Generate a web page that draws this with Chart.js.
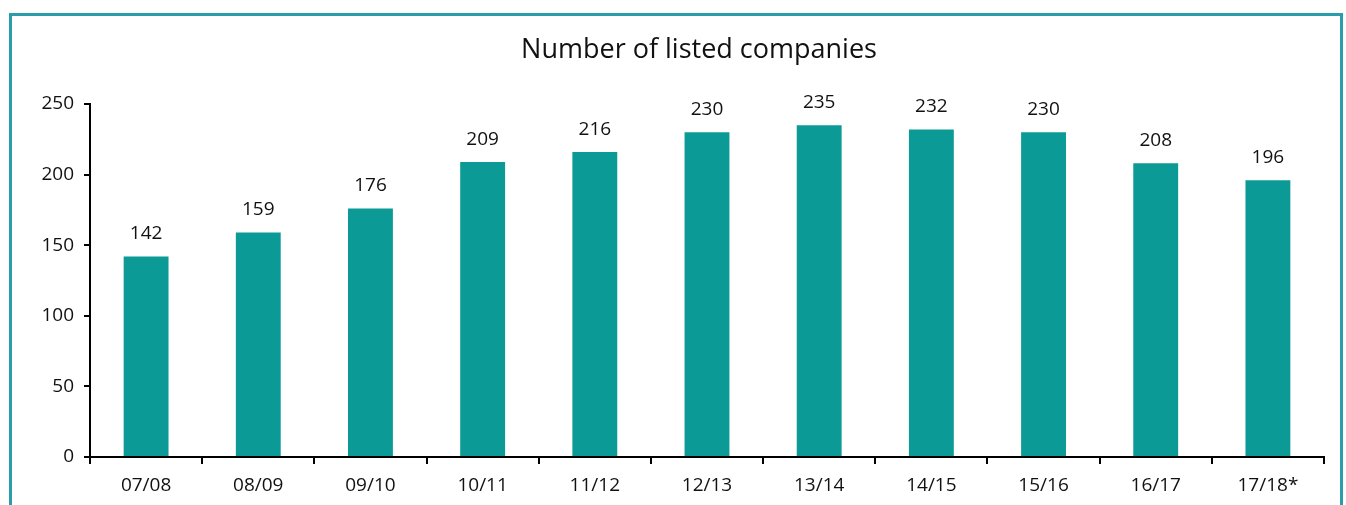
<!DOCTYPE html>
<html>
<head>
<meta charset="utf-8">
<script src="https://cdn.jsdelivr.net/npm/chart.js@4"></script>
<style>
  body { margin: 0; background: #fff; }
  #wrap { position: relative; width: 1346px; height: 505px; }
  #frame {
    position: absolute; left: 9px; top: 13px; width: 1328px; height: 500px;
    border: 3px solid #2a9dab; border-bottom: none; pointer-events: none;
  }
</style>
</head>
<body>
<div id="wrap">
  <canvas id="listedChart" width="1346" height="505"></canvas>
  <div id="frame"></div>
</div>
<script>
const chartTitle = 'Number of listed companies';
const seasons = ['07/08', '08/09', '09/10', '10/11', '11/12', '12/13', '13/14', '14/15', '15/16', '16/17', '17/18*'];
const listedCompanies = [142, 159, 176, 209, 216, 230, 235, 232, 230, 208, 196];
const yTicks = [0, 50, 100, 150, 200, 250];

const fontFamily = "'Open Sans', 'Noto Sans', sans-serif";

// title centred a bit left of the plot area, plus the value above each bar
const labelsPlugin = {
    id: 'labelsPlugin',
    afterDatasetsDraw(chart) {
        const c = chart.ctx;
        const area = chart.chartArea;
        c.save();
        c.fillStyle = '#111';
        c.textAlign = 'center';

        c.font = '27px ' + fontFamily;
        c.textBaseline = 'middle';
        c.fillText(chartTitle, (area.left + area.right) / 2 - 8, 50);

        c.font = '19px ' + fontFamily;
        c.textBaseline = 'alphabetic';
        chart.getDatasetMeta(0).data.forEach((bar, i) => {
            c.fillText(String(listedCompanies[i]), bar.x, bar.y - 17);
        });
        c.restore();
    }
};

const ctx = document.getElementById('listedChart').getContext('2d');

const listedChart = new Chart(ctx, {
    type: 'bar',
    data: {
        labels: seasons,
        datasets: [{
            label: chartTitle,
            data: listedCompanies,
            backgroundColor: '#0b9a96',
            borderWidth: 0,
            barPercentage: 0.4,
            categoryPercentage: 1
        }]
    },
    options: {
        responsive: false,
        animation: false,
        layout: {
            padding: { left: 30, right: 22, top: 104, bottom: 8 }
        },
        scales: {
            x: {
                grid: { drawOnChartArea: false, tickLength: 7, color: '#000', lineWidth: 2, offset: true },
                border: { color: '#000', width: 2 },
                ticks: { color: '#111', font: { family: fontFamily, size: 19 }, padding: 10, maxRotation: 0 },
                afterFit: s => { s.height = 40; }
            },
            y: {
                min: 0,
                max: 250,
                afterBuildTicks: s => { s.ticks = yTicks.map(v => ({ value: v })); },
                grid: { drawOnChartArea: false, tickLength: 6, color: '#000', lineWidth: 2 },
                border: { color: '#000', width: 2 },
                ticks: { color: '#111', font: { family: fontFamily, size: 19 }, padding: 10 },
                afterFit: s => { s.width = 60; }
            }
        },
        plugins: {
            legend: { display: false },
            tooltip: { enabled: false },
            title: { display: false }
        }
    },
    plugins: [labelsPlugin]
});
</script>
</body>
</html>
